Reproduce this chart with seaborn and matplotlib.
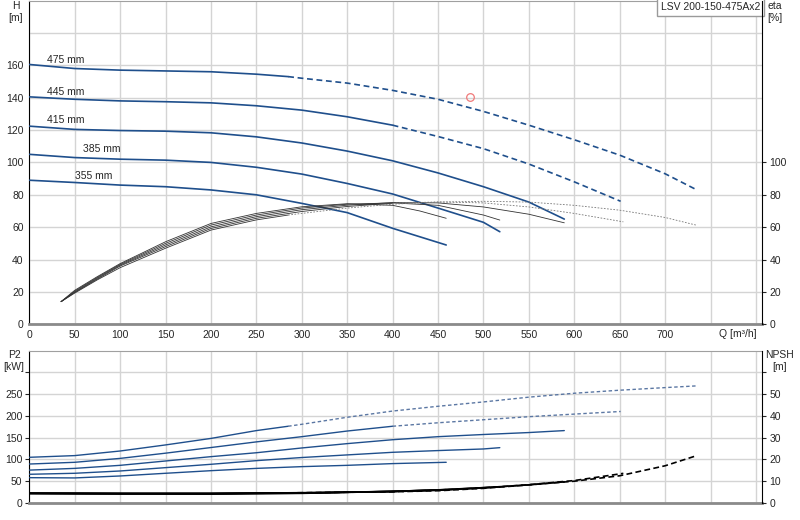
import matplotlib
matplotlib.use("Agg")
import matplotlib.pyplot as plt
import numpy as np
import pandas as pd
import seaborn as sns

# -----------------------------
# STYLE
# -----------------------------
sns.set_style("white")
plt.rcParams['font.family'] = ['Liberation Sans', 'DejaVu Sans']
plt.rcParams['font.size'] = 7.5

# -----------------------------
# DATA (read from the curve sheet)
# -----------------------------
pump_name = "LSV 200-150-475Ax2"
diameters = ["355 mm", "385 mm", "415 mm", "445 mm", "475 mm"]

# head H [m] vs Q [m3/h]
q_h_355 = [0, 50, 100, 150, 200, 250, 300, 350, 400, 459]
h_355 = [89, 87.6, 86, 85, 83, 80, 74.7, 69, 59.3, 49]
q_h_385 = [0, 50, 100, 150, 200, 250, 300, 350, 400, 450, 500, 518]
h_385 = [105, 103, 102, 101.4, 100, 97, 92.8, 87, 80.5, 71.8, 63, 57.2]
q_h_415 = [0, 50, 100, 150, 200, 250, 300, 350, 400, 450, 500, 550, 589]
h_415 = [122.4, 120.4, 119.7, 119.3, 118.3, 115.8, 112, 107, 101, 93.5, 85, 75.5, 65]
q_h_445 = [0, 50, 100, 150, 200, 250, 300, 350, 400, 450, 500, 550, 600, 651]
h_445 = [140.5, 139, 138, 137.5, 136.8, 135, 132.3, 128.2, 123, 116, 108.5, 99, 88, 76]
q_h_475 = [0, 50, 100, 150, 200, 250, 285, 300, 350, 400, 450, 500, 550, 600, 650, 700, 735]
h_475 = [160.5, 158, 157, 156.5, 156, 154.5, 153, 152, 149, 144.5, 139, 131.5, 123, 114, 104.5, 93, 83]

# efficiency eta [%]
q_e_355 = [35, 50, 75, 100, 150, 200, 250, 300, 350, 400, 430, 459]
e_355 = [14, 21, 29.5, 37.5, 51, 62.3, 68.5, 72.6, 74.5, 73.5, 70, 65.5]
q_e_385 = [35, 50, 75, 100, 150, 200, 250, 300, 350, 400, 450, 500, 518]
e_385 = [14, 20.5, 29, 37, 50, 61.3, 67.5, 71.8, 74.2, 75, 73.5, 67.5, 64.4]
q_e_415 = [35, 50, 75, 100, 150, 200, 250, 300, 350, 400, 450, 500, 550, 589]
e_415 = [14, 20, 28.5, 36.5, 49, 60.2, 66.5, 70.8, 73.6, 75.2, 75, 72.5, 68, 62.7]
q_e_445 = [35, 50, 75, 100, 150, 200, 250, 300, 350, 400, 450, 500, 550, 600, 654]
e_445 = [14, 19.7, 28, 36, 48, 59.2, 65.5, 69.7, 72.8, 74.8, 75.6, 75, 72.5, 68.5, 63.3]
q_e_475 = [35, 50, 75, 100, 150, 200, 250, 285, 300, 350, 400, 450, 500, 550, 600, 650, 700, 734]
e_475 = [14, 19.3, 27.5, 35, 47, 58.2, 64.5, 67.5, 68.5, 71.8, 74.2, 75.5, 76, 75.5, 73.5, 70.5, 66, 61.3]

# shaft power P2 [kW]
q_p_355 = [0, 50, 100, 150, 200, 250, 300, 350, 400, 459]
p_355 = [57.6, 57, 61.5, 67.7, 73.7, 79, 83, 86, 90, 93]
q_p_385 = [0, 50, 100, 150, 200, 250, 300, 350, 400, 450, 500, 518]
p_385 = [65.4, 67.7, 73, 80.7, 88.4, 96.8, 104, 110, 116, 120, 123.7, 126.7]
q_p_415 = [0, 50, 100, 150, 200, 250, 300, 350, 400, 450, 500, 550, 589]
p_415 = [75, 79, 86, 96, 106, 115, 126, 136, 145, 152, 157, 161.5, 166]
q_p_445 = [0, 50, 100, 150, 200, 250, 300, 350, 400, 450, 500, 550, 600, 651]
p_445 = [89, 93, 102, 114, 127, 140, 152, 165, 176, 184, 191, 198, 204, 210]
q_p_475 = [0, 50, 100, 150, 200, 250, 285, 300, 350, 400, 450, 500, 550, 600, 650, 700, 735]
p_475 = [104.5, 108.4, 119, 133, 148, 166, 176, 180.5, 196.7, 211, 222, 232, 243, 252, 259, 265, 269]

# NPSH [m]
q_n_355 = [0, 100, 200, 300, 400, 459]
n_355 = [4.3, 4.1, 4.0, 4.3, 5.2, 6.0]
q_n_385 = [0, 100, 200, 300, 400, 450, 518]
n_385 = [4.3, 4.1, 4.1, 4.4, 5.2, 5.9, 7.3]
q_n_415 = [0, 100, 200, 300, 400, 450, 500, 550, 589]
n_415 = [4.3, 4.2, 4.2, 4.5, 5.2, 5.8, 6.9, 8.2, 9.6]
q_n_445 = [0, 100, 200, 300, 400, 450, 500, 550, 600, 654]
n_445 = [4.3, 4.2, 4.2, 4.6, 5.1, 5.7, 6.8, 8.3, 10.2, 13.5]
q_n_475 = [0, 100, 200, 285, 300, 400, 450, 500, 550, 600, 650, 700, 735]
n_475 = [4.3, 4.3, 4.3, 4.5, 4.6, 5.0, 5.5, 6.6, 8.2, 9.9, 12.4, 17.0, 21.7]

# flow where each curve leaves the allowed range (None = all solid)
dash_from = [None, None, None, 400, 285]

# diameter labels (position of text) and duty point
label_q = [50, 59, 20, 20, 20]
label_h = [91.7, 108, 126, 143.6, 163]
duty_q = [485]
duty_h = [140.5]

q_ticks = list(range(0, 801, 50))
q_labels = [str(v) if v <= 700 else "" for v in q_ticks]

BLUE = "#1f4f8c"
GRID = "#d4d4d4"


def draw(ax, q, v, split, color, lw, dash, dash_color=None):
    df = pd.DataFrame({"Q": q, "V": v})
    solid = df if split is None else df[df.Q <= split]
    sns.lineplot(data=solid, x="Q", y="V", ax=ax, color=color, lw=lw,
                 estimator=None, sort=False, zorder=3)
    if split is not None:
        rest = df[df.Q >= split]
        sns.lineplot(data=rest, x="Q", y="V", ax=ax, color=dash_color or color,
                     lw=lw, linestyle=dash, estimator=None, sort=False, zorder=3)


# -----------------------------
# FIGURE
# -----------------------------
fig = plt.figure(figsize=(8, 5.2), dpi=100)
ax_h = fig.add_axes([0.0366, 0.3763, 0.9163, 0.6227])
ax_e = ax_h.twinx()
ax_p = fig.add_axes([0.0366, 0.0333, 0.9163, 0.2923])
ax_n = ax_p.twinx()

h_sets = [(q_h_355, h_355), (q_h_385, h_385), (q_h_415, h_415), (q_h_445, h_445), (q_h_475, h_475)]
e_sets = [(q_e_355, e_355), (q_e_385, e_385), (q_e_415, e_415), (q_e_445, e_445), (q_e_475, e_475)]
p_sets = [(q_p_355, p_355), (q_p_385, p_385), (q_p_415, p_415), (q_p_445, p_445), (q_p_475, p_475)]
n_sets = [(q_n_355, n_355), (q_n_385, n_385), (q_n_415, n_415), (q_n_445, n_445), (q_n_475, n_475)]

for i in range(len(diameters)):
    split = dash_from[i]
    draw(ax_h, *h_sets[i], split, BLUE, 1.2, (0, (3.5, 2.2)))
    draw(ax_e, *e_sets[i], split, "#333333", 0.6, (0, (2, 1.8)), "#777777")
    draw(ax_p, *p_sets[i], split, BLUE, 1.0, (0, (2.5, 1.8)), "#5b77a3")
    draw(ax_n, *n_sets[i], split, "black", 1.2, (0, (3.5, 2)))
    ax_h.text(label_q[i], label_h[i], diameters[i], ha="left", va="center", fontsize=7.5)

ax_h.plot(duty_q, duty_h, marker="o", ms=5.5, mfc="none", mec="#f07a7a", mew=0.9, ls="none", zorder=4)

ax_h.text(0.997, 0.996, pump_name, transform=ax_h.transAxes, ha="right", va="top",
          fontsize=7.5, zorder=5,
          bbox=dict(boxstyle="square,pad=0.4", fc="white", ec="#9a9a9a", lw=1))

# -----------------------------
# AXES
# -----------------------------
for ax in (ax_h, ax_p):
    ax.set_xlim(0, 807)
    ax.set_xticks(q_ticks)
    ax.grid(True, color=GRID, lw=1)
    ax.set_axisbelow(True)
    ax.set_xlabel("")
    ax.set_ylabel("")
    ax.spines["left"].set_color("black")
    ax.spines["top"].set_color("#a0a0a0")
    ax.spines["bottom"].set_color("#8a8a8a")
    ax.spines["bottom"].set_linewidth(2)
    ax.spines["right"].set_visible(False)
    ax.tick_params(axis="both", length=3, width=0.8, pad=2, labelsize=7.5)

ax_h.tick_params(axis="both", length=0, pad=4)

for ax in (ax_e, ax_n):
    ax.set_ylabel("")
    ax.grid(False)
    for s in ("left", "top", "bottom"):
        ax.spines[s].set_visible(False)
    ax.spines["right"].set_color("black")
    ax.tick_params(axis="y", length=3, width=0.8, pad=2, labelsize=7.5)

ax_h.set_xticklabels(q_labels)
ax_h.set_ylim(0, 200)
ax_h.set_yticks(range(0, 181, 20))
ax_h.set_yticklabels([str(v) if v <= 160 else "" for v in range(0, 181, 20)])

ax_e.set_ylim(0, 200)
ax_e.set_yticks(range(0, 101, 20))

ax_p.set_xticklabels([])
ax_p.tick_params(axis="x", length=0)
ax_p.set_ylim(0, 350)
ax_p.set_yticks(range(0, 301, 50))
ax_p.set_yticklabels([str(v) if v <= 250 else "" for v in range(0, 301, 50)])

ax_n.set_ylim(0, 70)
ax_n.set_yticks(range(0, 61, 10))
ax_n.set_yticklabels([str(v) if v <= 50 else "" for v in range(0, 61, 10)])

# axis titles
fig.text(16 / 800, 1 - 6 / 520, "H", ha="center", va="center", fontsize=7.5)
fig.text(16 / 800, 1 - 18 / 520, "[m]", ha="center", va="center", fontsize=7.5)
fig.text(775 / 800, 1 - 6 / 520, "eta", ha="center", va="center", fontsize=7.5)
fig.text(775 / 800, 1 - 18 / 520, "[%]", ha="center", va="center", fontsize=7.5)
fig.text(14 / 800, 1 - 355 / 520, "P2", ha="center", va="center", fontsize=7.5)
fig.text(14 / 800, 1 - 367 / 520, "[kW]", ha="center", va="center", fontsize=7.5)
fig.text(780 / 800, 1 - 355 / 520, "NPSH", ha="center", va="center", fontsize=7.5)
fig.text(780 / 800, 1 - 367 / 520, "[m]", ha="center", va="center", fontsize=7.5)
fig.text(738 / 800, 1 - 334 / 520, "Q [m³/h]", ha="center", va="center", fontsize=7.5)

fig.savefig("out.png", dpi=100)
